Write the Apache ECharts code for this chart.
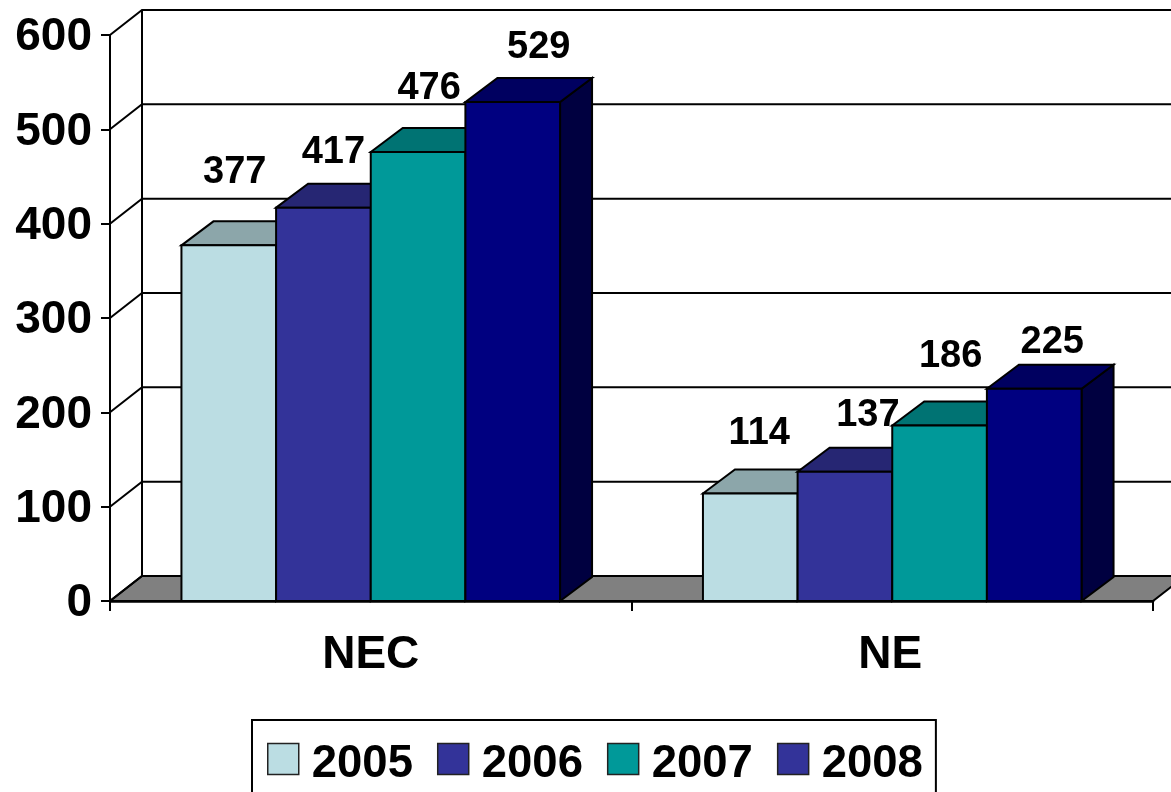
<!DOCTYPE html>
<html>
<head>
<meta charset="utf-8">
<style>
html, body { margin: 0; padding: 0; background: #fff; }
#chart { width: 1171px; height: 792px; }
</style>
<script src="https://cdn.jsdelivr.net/npm/echarts@6/dist/echarts.min.js"></script>
</head>
<body>
<div id="chart"></div>
<script>
var categories = ['NEC', 'NE'];
var years = ['2005', '2006', '2007', '2008'];
var values2005 = [377, 114];
var values2006 = [417, 137];
var values2007 = [476, 186];
var values2008 = [529, 225];
var yTicks = [0, 100, 200, 300, 400, 500, 600];

// colours per series: front, top, side
var fronts = ['#bbdde3', '#333399', '#009999', '#000080'];
var tops = ['#8ca6aa', '#262673', '#007373', '#000060'];
var sides = ['#5e6f72', '#1a1a4d', '#004d4d', '#000040'];
var legendColors = ['#bbdde3', '#333399', '#009999', '#333399'];

// labels were hand placed in the original, offset from bar front centre/top
var labelDx = [[6, 10, 11, 26], [9, 23, 11, 18]];
var labelDy = [[-73, -55, -63, -54], [-60, -56, -69, -46]];

var allValues = [values2005, values2006, values2007, values2008];
var FONT = '"Liberation Sans", Arial, sans-serif';
var wallDx = 32, wallDy = 25;
var barDx = 32, barDy = 24;
var barRatio = 0.1815;

function wallItem(params, api) {
    var cs = params.coordSys;
    var y = api.coord([0, api.value(0)])[1];
    return {
        type: 'polyline',
        shape: { points: [[cs.x, y], [cs.x + wallDx, y - wallDy], [cs.x + cs.width + wallDx, y - wallDy]] },
        style: { fill: null, stroke: '#000', lineWidth: 2 }
    };
}

function floorItem(params, api) {
    var cs = params.coordSys;
    var y0 = api.coord([0, 0])[1];
    var yTop = api.coord([0, 600])[1];
    return {
        type: 'group',
        children: [{
            type: 'polygon',
            shape: { points: [[cs.x, y0], [cs.x + cs.width, y0], [cs.x + cs.width + wallDx, y0 - wallDy], [cs.x + wallDx, y0 - wallDy]] },
            style: { fill: '#808080', stroke: '#000', lineWidth: 2 }
        }, {
            type: 'line',
            shape: { x1: cs.x + wallDx, y1: y0 - wallDy, x2: cs.x + wallDx, y2: yTop - wallDy },
            style: { stroke: '#000', lineWidth: 2 }
        }]
    };
}

function barRenderer(s) {
    return function (params, api) {
        var p = api.coord([api.value(0), api.value(1)]);
        var base = api.coord([api.value(0), 0]);
        var w = api.size([1, 0])[0] * barRatio;
        var x0 = p[0] + (s - 2) * w;
        var x1 = x0 + w;
        var yt = p[1], yb = base[1];
        var line = { stroke: '#000', lineWidth: 2 };
        return {
            type: 'group',
            children: [{
                type: 'polygon',
                shape: { points: [[x1, yt], [x1 + barDx, yt - barDy], [x1 + barDx, yb - barDy], [x1, yb]] },
                style: Object.assign({ fill: sides[s] }, line)
            }, {
                type: 'polygon',
                shape: { points: [[x0, yt], [x0 + barDx, yt - barDy], [x1 + barDx, yt - barDy], [x1, yt]] },
                style: Object.assign({ fill: tops[s] }, line)
            }, {
                type: 'rect',
                shape: { x: x0, y: yt, width: w, height: yb - yt },
                style: Object.assign({ fill: fronts[s] }, line)
            }]
        };
    };
}

function labelItem(params, api) {
    var c = api.value(0), s = api.value(1), v = api.value(2);
    var p = api.coord([c, v]);
    var w = api.size([1, 0])[0] * barRatio;
    return {
        type: 'text',
        x: p[0] + (s - 1.5) * w + labelDx[c][s],
        y: p[1] + labelDy[c][s],
        style: {
            text: String(v),
            font: 'bold 38px ' + FONT,
            fill: '#000',
            align: 'center',
            verticalAlign: 'middle'
        }
    };
}

var labelData = [];
categories.forEach(function (c, i) {
    allValues.forEach(function (vals, s) {
        labelData.push([i, s, vals[i]]);
    });
});

var series = [
    {
        type: 'custom',
        name: 'floor',
        z: 1,
        silent: true,
        renderItem: floorItem,
        data: [[0]]
    },
    {
        type: 'custom',
        name: 'wall',
        z: 1,
        silent: true,
        renderItem: wallItem,
        encode: { y: 0 },
        data: yTicks.map(function (t) { return [t]; })
    }
];

years.forEach(function (y, s) {
    series.push({
        type: 'custom',
        name: y,
        z: 3 + s,
        renderItem: barRenderer(s),
        encode: { x: 0, y: 1 },
        itemStyle: { color: legendColors[s] },
        data: allValues[s].map(function (v, i) { return [i, v]; })
    });
});

series.push({
    type: 'custom',
    name: 'labels',
    z: 10,
    silent: true,
    renderItem: labelItem,
    data: labelData
});

var bold46 = { color: '#000', fontFamily: FONT, fontWeight: 'bold', fontSize: 46 };

var myChart = echarts.init(document.getElementById('chart'));
var option = {
    animation: false,
    backgroundColor: '#fff',
    grid: { left: 110, top: 35, width: 1043, height: 566, containLabel: false },
    xAxis: {
        type: 'category',
        data: categories,
        z: 8,
        axisLine: { show: true, lineStyle: { color: '#000', width: 2.5 } },
        axisTick: { show: true, length: 10, lineStyle: { color: '#000', width: 2 } },
        axisLabel: {
            color: '#000', fontFamily: FONT, fontWeight: 'bold', fontSize: 46, margin: 31,
            formatter: function (v) { return v === 'NE' ? '{ne|' + v + '}' : v; },
            rich: { ne: Object.assign({ padding: [0, 4, 0, 0] }, bold46) }
        }
    },
    yAxis: {
        type: 'value',
        min: 0,
        max: 600,
        interval: 100,
        splitLine: { show: false },
        axisLine: { show: true, lineStyle: { color: '#000', width: 2 } },
        axisTick: { show: true, length: 9, lineStyle: { color: '#000', width: 2 } },
        axisLabel: {
            color: '#000', fontFamily: FONT, fontWeight: 'bold', fontSize: 46, margin: 18,
            formatter: '{t|{value}}',
            rich: { t: Object.assign({ padding: [5, 0, 0, 0] }, bold46) }
        }
    },
    legend: {
        left: 252,
        top: 720,
        orient: 'horizontal',
        backgroundColor: '#fff',
        borderColor: '#000',
        borderWidth: 2,
        padding: [21, 13, 14, 15],
        itemWidth: 31,
        itemHeight: 31,
        itemGap: 24,
        icon: 'rect',
        formatter: '{t|{name}}',
        textStyle: {
            color: '#000', fontFamily: FONT, fontWeight: 'bold', fontSize: 45.5,
            rich: { t: { color: '#000', fontFamily: FONT, fontWeight: 'bold', fontSize: 45.5, padding: [10, 0, 0, 8] } }
        },
        data: years.map(function (y, s) {
            return { name: y, itemStyle: { color: legendColors[s], borderColor: '#222', borderWidth: 1.5 } };
        })
    },
    series: series
};

if (option && typeof option === 'object') {
    myChart.setOption(option, true);
}
</script>
</body>
</html>
